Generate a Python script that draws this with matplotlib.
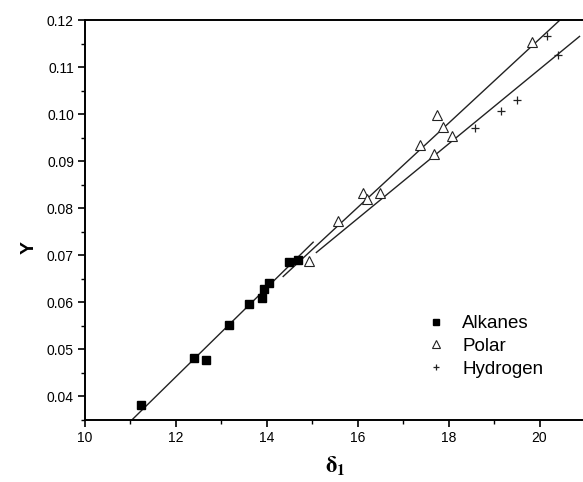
import numpy as np
import matplotlib
matplotlib.use("Agg")
import matplotlib.pyplot as plt
from matplotlib.ticker import MultipleLocator, FormatStrFormatter

plt.rcParams['font.family'] = ['Liberation Sans', 'DejaVu Sans']
plt.rcParams['mathtext.fontset'] = 'stix'

# Data
alk_x = [11.24, 12.40, 12.67, 13.16, 13.60, 13.90, 13.93, 14.04, 14.48, 14.68]
alk_y = [0.0382, 0.0481, 0.0478, 0.0551, 0.0596, 0.0609, 0.0629, 0.0641, 0.0685, 0.0691]

pol_x = [14.92, 15.57, 16.12, 16.21, 16.48, 17.37, 17.75, 17.88, 17.68, 18.08, 19.83]
pol_y = [0.0688, 0.0773, 0.0832, 0.0819, 0.0832, 0.0935, 0.0999, 0.0972, 0.0916, 0.0953, 0.1153]

hyd_x = [18.59, 19.16, 19.51, 20.17, 20.40]
hyd_y = [0.0970, 0.1007, 0.1030, 0.1167, 0.1125]

# Fitted lines: (x start, x end, slope, intercept at x=0)
fit_alk = (11.03, 15.02, 0.00947, 0.035 - 0.00947 * 11.03)
fit_upper = (14.36, 20.45, 0.00895, 0.0655 - 0.00895 * 14.36)
fit_lower = (15.09, 20.88, 0.00793, 0.0706 - 0.00793 * 15.09)

x_ticks = [10, 12, 14, 16, 18, 20]
y_ticks = [0.04, 0.05, 0.06, 0.07, 0.08, 0.09, 0.10, 0.11, 0.12]

fig = plt.figure(figsize=(5.83, 4.82), dpi=100)
ax = fig.add_axes([85 / 583, 62 / 482, 500 / 583, 400 / 482])

for (x0, x1, m, b) in (fit_alk, fit_upper, fit_lower):
    xs = np.array([x0, x1])
    ax.plot(xs, m * xs + b, color='#222222', lw=1.0, zorder=2)

ax.plot(alk_x, alk_y, ls='none', marker='s', ms=5.5, mfc='black', mec='black',
        label='Alkanes', zorder=3)
ax.plot(pol_x, pol_y, ls='none', marker='^', ms=6.5, mfc='white', mec='#222222',
        mew=0.8, label='Polar', zorder=3)
ax.plot(hyd_x, hyd_y, ls='none', marker='+', ms=6, mec='#222222', mew=0.9,
        label='Hydrogen', zorder=3)

ax.set_xlim(10, 21)
ax.set_ylim(0.035, 0.12)
ax.set_xticks(x_ticks)
ax.set_yticks(y_ticks)
ax.xaxis.set_minor_locator(MultipleLocator(1))
ax.yaxis.set_minor_locator(MultipleLocator(0.005))
ax.yaxis.set_major_formatter(FormatStrFormatter('%.2f'))

for s in ax.spines.values():
    s.set_linewidth(1.4)
ax.spines['right'].set_visible(False)
ax.tick_params(which='major', direction='out', length=5, width=1.2, labelsize=10, pad=3)
ax.tick_params(which='minor', direction='out', length=3, width=1.0)

ax.set_xlabel(r'$\mathbf{\delta_1}$', fontsize=16, labelpad=7)
ax.set_ylabel('Y', fontsize=14, fontweight='bold')
ax.yaxis.set_label_coords(-0.095, 0.43)

leg = ax.legend(loc='upper left', bbox_to_anchor=(0.657, 0.295), frameon=False,
                fontsize=13.5, handlelength=1.0, handletextpad=0.9,
                labelspacing=0.3, markerscale=0.8, borderaxespad=0.3)

fig.savefig('out.png', dpi=100)
